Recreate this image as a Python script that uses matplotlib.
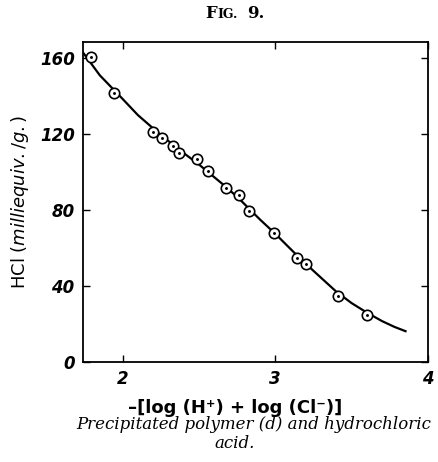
import numpy as np
import matplotlib
matplotlib.use("Agg")
import matplotlib.pyplot as plt

# measured points
x_pts = [1.79, 1.94, 2.20, 2.26, 2.33, 2.37, 2.49, 2.56, 2.68, 2.76, 2.83, 2.99, 3.14, 3.20, 3.41, 3.60]
y_pts = [160.5, 141.5, 121, 118, 114, 110, 107, 100.5, 91.5, 88, 79.5, 68, 55, 51.5, 34.5, 25]

# drawn curve
x_curve = [1.74, 1.85, 2.0, 2.1, 2.25, 2.4, 2.5, 2.65, 2.75, 2.9, 3.0, 3.15, 3.25, 3.4, 3.5, 3.6, 3.7, 3.78, 3.86]
y_curve = [163, 151, 138.5, 130, 119.5, 110, 104, 94, 87, 75, 67.5, 55.5, 48, 37, 31, 26, 21.5, 18.5, 16]

xticks = [2, 3, 4]
yticks = [0, 40, 80, 120, 160]

fig = plt.figure(figsize=(4.38, 4.62), dpi=100)
ax = fig.add_axes([0.1895, 0.2165, 0.7875, 0.6925])

ax.plot(x_curve, y_curve, color="black", lw=1.6, solid_capstyle="butt")
ax.plot(x_pts, y_pts, "o", mfc="white", mec="black", mew=1.2, ms=7.5)
ax.plot(x_pts, y_pts, ".", color="black", ms=2.2)

ax.set_xlim(1.74, 4.0)
ax.set_ylim(0, 168.5)
ax.set_xticks(xticks)
ax.set_yticks(yticks)
ax.tick_params(direction="in", length=5, width=1, top=True, right=True, pad=6)
ax.set_xticklabels([str(t) for t in xticks], fontsize=12, style="italic", fontweight="bold")
ax.set_yticklabels([str(t) for t in yticks], fontsize=12, style="italic", fontweight="bold")
for s in ax.spines.values():
    s.set_linewidth(1.3)

ax.set_xlabel("\u2013[log (H\u207a) + log (Cl\u207b)]", fontsize=13, fontweight="bold")
ax.xaxis.set_label_coords(0.442, -0.115)
ax.set_ylabel(r"HCl $\it{(milliequiv./g.)}$", fontsize=13, labelpad=6)

# title in small caps
fig.text(0.468, 0.962, "F", fontsize=12, family="DejaVu Serif", fontweight="bold", ha="left", va="baseline")
fig.text(0.496, 0.962, "IG.", fontsize=9, family="DejaVu Serif", fontweight="bold", ha="left", va="baseline")
fig.text(0.565, 0.962, "9.", fontsize=12, family="DejaVu Serif", fontweight="bold", ha="left", va="baseline")

fig.text(0.58, 0.072, "Precipitated polymer (d) and hydrochloric", fontsize=12,
         family="DejaVu Serif", style="italic", ha="center", va="baseline")
fig.text(0.535, 0.030, "acid.", fontsize=12, family="DejaVu Serif", style="italic",
         ha="center", va="baseline")

fig.savefig("out.png", dpi=100)
